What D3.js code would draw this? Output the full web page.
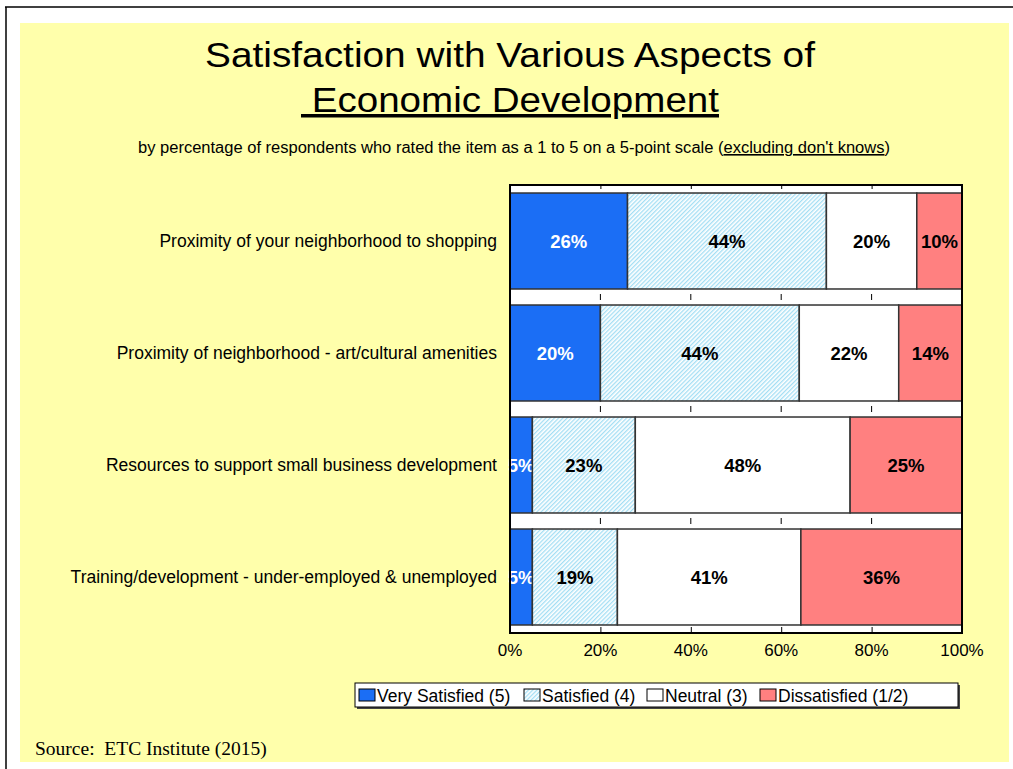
<html>
<head>
<script src="https://d3js.org/d3.v7.min.js"></script>
<style>
  body { margin: 0; background: #fff; }
  svg text { font-family: "Liberation Sans", Arial, sans-serif; white-space: pre; }
</style>
</head>
<body>
<div id="chart-container"></div>
<script>
// Data (percent, as shown on the bars)
const categories = [
  "Proximity of your neighborhood to shopping",
  "Proximity of neighborhood - art/cultural amenities",
  "Resources to support small business development",
  "Training/development - under-employed & unemployed"
];
const seriesNames = ["Very Satisfied (5)", "Satisfied (4)", "Neutral (3)", "Dissatisfied (1/2)"];
const verySatisfied = [26, 20, 5, 5];
const satisfied = [44, 44, 23, 19];
const neutral = [20, 22, 48, 41];
const dissatisfied = [10, 14, 25, 36];
const xTicks = [0, 0.2, 0.4, 0.6, 0.8, 1];

const keys = ["vs", "s", "n", "d"];
const rows = categories.map((c, i) => ({
  cat: c, vs: verySatisfied[i], s: satisfied[i], n: neutral[i], d: dissatisfied[i]
}));

const width = 1013, height = 769;
const svg = d3.select("#chart-container").append("svg")
  .attr("width", width).attr("height", height);

// hatch pattern for "Satisfied"
const defs = svg.append("defs");
const pat = defs.append("pattern")
  .attr("id", "hatch").attr("patternUnits", "userSpaceOnUse")
  .attr("width", 3).attr("height", 3)
  .attr("patternTransform", "rotate(45)");
pat.append("rect").attr("width", 3).attr("height", 3).attr("fill", "#fff");
pat.append("rect").attr("width", 1.3).attr("height", 3).attr("fill", "#a3def4");

// page frame and yellow background
svg.append("rect").attr("x", 20).attr("y", 23).attr("width", 989).attr("height", 739).attr("fill", "#ffffab");
svg.append("line").attr("x1", 5).attr("x2", 1013).attr("y1", 7).attr("y2", 7).attr("stroke", "#000").attr("stroke-width", 1.5);
svg.append("line").attr("x1", 6).attr("x2", 6).attr("y1", 7).attr("y2", 769).attr("stroke", "#000").attr("stroke-width", 1.5);

// titles
svg.append("text").attr("x", 510).attr("y", 67).attr("text-anchor", "middle")
  .attr("font-size", 35).attr("textLength", 610).attr("lengthAdjust", "spacingAndGlyphs")
  .text("Satisfaction with Various Aspects of");
svg.append("text").attr("x", 510).attr("y", 112).attr("text-anchor", "middle")
  .attr("font-size", 35).attr("textLength", 418).attr("lengthAdjust", "spacingAndGlyphs")
  .attr("text-decoration", "underline").text(" Economic Development");
const sub = svg.append("text").attr("x", 514).attr("y", 153).attr("text-anchor", "middle")
  .attr("font-size", 16).attr("textLength", 752).attr("lengthAdjust", "spacingAndGlyphs");
sub.append("tspan").text("by percentage of respondents who rated the item as a 1 to 5 on a 5-point scale (");
sub.append("tspan").attr("text-decoration", "underline").text("excluding don't knows");
sub.append("tspan").text(")");

// plot
const plot = { left: 510, right: 962, top: 185, bottom: 633 };
const x = d3.scaleLinear().domain([0, 1]).range([plot.left, plot.right]);
const y = d3.scaleBand().domain(categories).range([plot.top, plot.bottom])
  .paddingInner(0.143).paddingOuter(0.0715);

const stack = d3.stack().keys(keys).offset(d3.stackOffsetExpand);
const stacked = stack(rows);

const fills = { vs: "#1b6ef5", s: "url(#hatch)", n: "#ffffff", d: "#ff8080" };
const labelColor = { vs: "#fff", s: "#000", n: "#000", d: "#000" };

svg.append("rect").attr("x", plot.left).attr("y", plot.top)
  .attr("width", plot.right - plot.left).attr("height", plot.bottom - plot.top)
  .attr("fill", "#fff");

// small ticks inside the gaps
const gapYs = [];
categories.forEach((c, i) => {
  if (i > 0) gapYs.push((y(categories[i - 1]) + y.bandwidth() + y(c)) / 2);
});
const inner = xTicks.filter(t => t > 0 && t < 1);
gapYs.forEach(gy => {
  svg.append("g").selectAll("line").data(inner).join("line")
    .attr("x1", d => x(d)).attr("x2", d => x(d))
    .attr("y1", gy - 3).attr("y2", gy + 3)
    .attr("stroke", "#000").attr("stroke-width", 1);
});

const layer = svg.append("g").selectAll("g").data(stacked).join("g");
layer.selectAll("rect").data(d => d.map(v => ({ key: d.key, v }))).join("rect")
  .attr("x", d => x(d.v[0]))
  .attr("y", d => y(d.v.data.cat))
  .attr("width", d => x(d.v[1]) - x(d.v[0]))
  .attr("height", y.bandwidth())
  .attr("fill", d => fills[d.key])
  .attr("stroke", "#333").attr("stroke-width", 1.5);

layer.selectAll("text").data(d => d.map(v => ({ key: d.key, v }))).join("text")
  .attr("x", d => (x(d.v[0]) + x(d.v[1])) / 2)
  .attr("y", d => y(d.v.data.cat) + y.bandwidth() / 2 + 7)
  .attr("text-anchor", "middle")
  .attr("font-size", 18.5).attr("font-weight", "bold")
  .attr("fill", d => labelColor[d.key])
  .text(d => d.v.data[d.key] + "%");

// x axis (ticks pointing up) and top ticks
svg.append("g").attr("transform", `translate(0,${plot.bottom})`)
  .call(d3.axisBottom(x).tickValues(xTicks).tickSize(-6).tickFormat(""))
  .call(g => g.select(".domain").remove())
  .call(g => g.selectAll("line").attr("stroke", "#000"));
svg.append("g").attr("transform", `translate(0,${plot.top})`)
  .call(d3.axisTop(x).tickValues(inner).tickSize(-4).tickFormat(""))
  .call(g => g.select(".domain").remove())
  .call(g => g.selectAll("line").attr("stroke", "#000"));

svg.append("g").selectAll("text").data(xTicks).join("text")
  .attr("x", d => x(d)).attr("y", plot.bottom + 23)
  .attr("text-anchor", "middle").attr("font-size", 17)
  .text(d3.format(".0%"));

svg.append("rect").attr("x", plot.left).attr("y", plot.top)
  .attr("width", plot.right - plot.left).attr("height", plot.bottom - plot.top)
  .attr("fill", "none").attr("stroke", "#000").attr("stroke-width", 2);

// category labels
svg.append("g").selectAll("text").data(categories).join("text")
  .attr("x", 497).attr("y", d => y(d) + y.bandwidth() / 2 + 5.5)
  .attr("text-anchor", "end").attr("font-size", 17.5)
  .text(d => d);

// legend
const lg = svg.append("g");
lg.append("rect").attr("x", 357).attr("y", 685).attr("width", 603).attr("height", 24).attr("fill", "#444");
lg.append("rect").attr("x", 355).attr("y", 683).attr("width", 603).attr("height", 24)
  .attr("fill", "#fff").attr("stroke", "#000").attr("stroke-width", 1);
const legendX = [359, 524, 647, 760];
keys.forEach((k, i) => {
  lg.append("rect").attr("x", legendX[i]).attr("y", 689).attr("width", 16).attr("height", 12)
    .attr("fill", fills[k]).attr("stroke", "#000").attr("stroke-width", 1);
  lg.append("text").attr("x", legendX[i] + 18).attr("y", 702).attr("font-size", 17.5)
    .text(seriesNames[i]);
});

// source
svg.append("text").attr("x", 35).attr("y", 755)
  .style("font-family", "'Liberation Serif', 'Times New Roman', serif")
  .attr("font-size", 19.5).text("Source:  ETC Institute (2015)");
</script>
</body>
</html>
